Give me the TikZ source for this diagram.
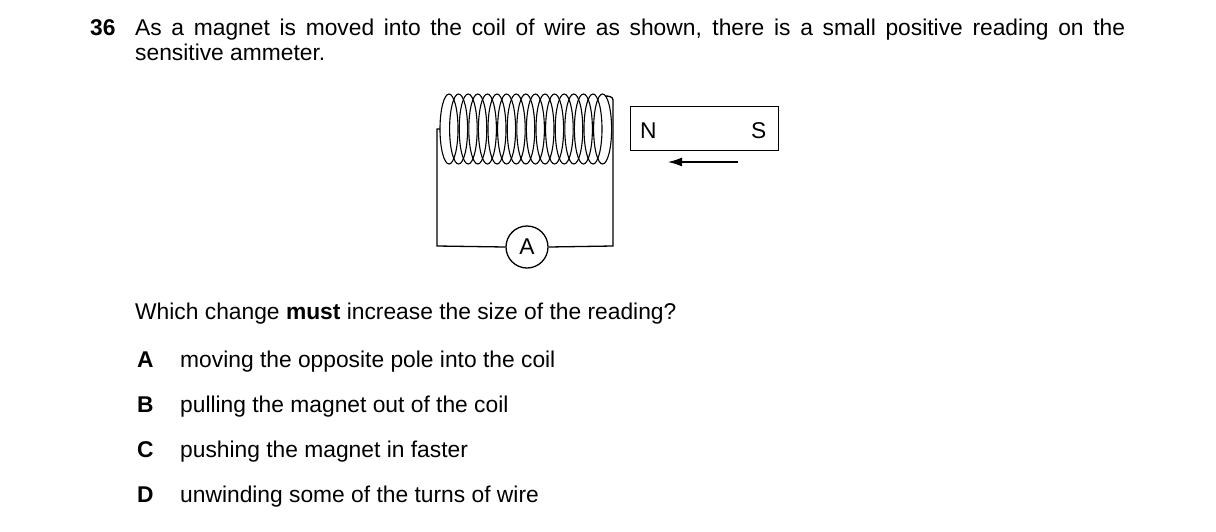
\documentclass[tikz,border=0pt]{standalone}
\usepackage{fontspec}
\setmainfont{Liberation Sans}
\usetikzlibrary{arrows.meta}
\begin{document}
\begin{tikzpicture}[x=1pt,y=-1pt,
  txt/.style={anchor=base west,inner sep=0pt,font=\fontsize{22.8}{25}\selectfont},
  wire/.style={line width=1.3pt},
  coil/.style={line width=1.1pt}]
\useasboundingbox (0,0) rectangle (1216,531);
\node[txt] (q) at (90,35) {\textbf{36}};
\node[txt,text width=990pt,align=justify] (stem) at (135,35) {As a magnet is moved into the coil of wire as shown, there is a small positive reading on the\linebreak sensitive ammeter.};
% coil
\foreach \i in {0,...,16} {
  \draw[coil] ({449+\i*9.6},129) ellipse (9 and 35);
}
\coordinate (cl) at (440,129);
\coordinate (cr) at (613,100);
\coordinate (bl) at (437,246);
\coordinate (br) at (613,246);
\node[draw,circle,wire,minimum size=42pt,inner sep=0pt,font=\fontsize{22.8}{25}\selectfont] (A) at (527,247) {A};
\draw[wire] (cl) -- (437,129) -- (bl) -- (A.west);
\draw[wire] (605,96) to[out=0,in=90] (cr) -- (br) -- (A.east);
% magnet
\node[draw,wire,minimum width=148pt,minimum height=44pt,inner sep=0pt,anchor=north west] (mag) at (630,106) {};
\node[txt] (N) at (640,138) {N};
\node[txt] (S) at (751,138) {S};
\coordinate (as) at (738,162);
\coordinate (ae) at (668,162);
\draw[wire,-{Latex[length=14pt,width=9pt]}] (as) -- (ae);
\node[txt] (w) at (135,319) {Which change \textbf{must} increase the size of the reading?};
\node[txt] (la) at (137,367) {\textbf{A}};
\node[txt] (ta) at (180,367) {moving the opposite pole into the coil};
\node[txt] (lb) at (137,412) {\textbf{B}};
\node[txt] (tb) at (180,412) {pulling the magnet out of the coil};
\node[txt] (lc) at (137,457) {\textbf{C}};
\node[txt] (tc) at (180,457) {pushing the magnet in faster};
\node[txt] (ld) at (137,502) {\textbf{D}};
\node[txt] (td) at (180,502) {unwinding some of the turns of wire};
\end{tikzpicture}
\end{document}
